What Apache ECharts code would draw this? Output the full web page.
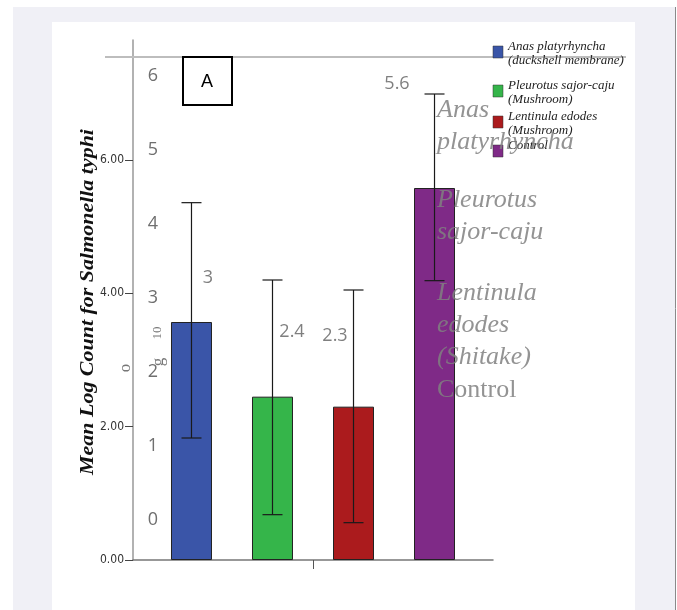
<!DOCTYPE html>
<html>
<head>
<meta charset="utf-8">
<script src="https://cdn.jsdelivr.net/npm/echarts@6/dist/echarts.min.js"></script>
<style>
  html, body { margin: 0; padding: 0; background: #fff; }
  #chart { width: 677px; height: 610px; }
</style>
</head>
<body>
<div id="chart"></div>
<script>
// SPSS bars: mean log count and the error bar ends
var categories = ['Anas platyrhyncha (duckshell membrane)', 'Pleurotus sajor-caju (Mushroom)', 'Lentinula edodes (Mushroom)', 'Control'];
var meanLog = [3.57, 2.45, 2.30, 5.58];
var errLow = [1.83, 0.68, 0.56, 4.19];
var errHigh = [5.36, 4.20, 4.05, 6.99];
var spssTicks = [0, 2, 4, 6];
var barColors = ['#3a55a8', '#35b54a', '#ab1b1d', '#7f2a87'];

// pasted excel layer: labels and axis numbers
var excelValues = [3, 2.4, 2.3, 5.6];
var excelTicks = [0, 1, 2, 3, 4, 5, 6];
var excelNames = [['Anas', 'platyrhyncha'], ['Pleurotus', 'sajor-caju'], ['Lentinula', 'edodes', '(Shitake)'], ['Control']];

// legend lines of the spss picture
var legendLines = [['Anas platyrhyncha', '(duckshell membrane)'], ['Pleurotus sajor-caju', '(Mushroom)'], ['Lentinula edodes', '(Mushroom)'], ['Control']];

var labelShift = [[8, -6], [12, 3], [-25, 0], [-43, -8]];
var legendTop = [46, 85, 116, 145];
var nameTop = [110, 200, 293, 390];

var gfx = [
    { type: 'rect', shape: { x: 13, y: 7, width: 662, height: 603 }, style: { fill: '#f0f0f6' }, z: -10 },
    { type: 'rect', shape: { x: 52, y: 22, width: 583, height: 588 }, style: { fill: '#ffffff' }, z: -9 },
    { type: 'line', shape: { x1: 675.5, y1: 7, x2: 675.5, y2: 610 }, style: { stroke: '#8a8a8a', lineWidth: 1 }, z: -8 },
    // top line of the excel frame
    { type: 'line', shape: { x1: 105, y1: 57, x2: 626, y2: 57 }, style: { stroke: '#bdbdbd', lineWidth: 2 }, z: 1 },
    // box A
    { type: 'rect', shape: { x: 183, y: 57, width: 49, height: 48 }, style: { fill: '#fff', stroke: '#000', lineWidth: 2 }, z: 5 },
    { type: 'text', x: 207, y: 82, style: { text: 'A', font: '18px Liberation Sans', fill: '#000', textAlign: 'center', textVerticalAlign: 'middle' }, z: 6 },
    // y axis title (stretched along its length like the source)
    { type: 'text', x: 88, y: 302, rotation: Math.PI / 2, scaleX: 1.22, style: { text: 'Mean Log Count for Salmonella typhi', font: 'italic bold 18px Liberation Serif', fill: '#111', textAlign: 'center', textVerticalAlign: 'middle' }, z: 5 },
    // bits of the hidden excel axis title
    { type: 'text', x: 158, y: 333, rotation: Math.PI / 2, style: { text: '10', font: '13px Liberation Serif', fill: '#777', textAlign: 'center', textVerticalAlign: 'middle' }, z: 5 },
    { type: 'text', x: 159, y: 362, rotation: Math.PI / 2, style: { text: 'g', font: '17px Liberation Serif', fill: '#777', textAlign: 'center', textVerticalAlign: 'middle' }, z: 5 },
    { type: 'text', x: 126, y: 368, rotation: Math.PI / 2, style: { text: 'o', font: '17px Liberation Serif', fill: '#777', textAlign: 'center', textVerticalAlign: 'middle' }, z: 5 }
];

legendLines.forEach(function (lines, i) {
    gfx.push({ type: 'rect', shape: { x: 493, y: legendTop[i], width: 10, height: 12 }, style: { fill: barColors[i], stroke: '#333', lineWidth: 0.5 }, z: 8 });
    lines.forEach(function (t, j) {
        gfx.push({ type: 'text', x: 508, y: legendTop[i] + 1 + j * 14, style: { text: t, font: 'italic 13px Liberation Serif', fill: '#222', textAlign: 'left', textVerticalAlign: 'middle' }, z: 8 });
    });
});

excelNames.forEach(function (lines, i) {
    lines.forEach(function (t, j) {
        gfx.push({ type: 'text', x: 437, y: nameTop[i] + j * 32, style: { text: t, font: (i == 3 ? '' : 'italic ') + '26px Liberation Serif', fill: 'rgba(128,128,128,0.85)', textAlign: 'left', textVerticalAlign: 'middle' }, z: 9 });
    });
});

var option = {
    backgroundColor: '#ffffff',
    animation: false,
    graphic: { elements: gfx },
    grid: [
        { left: 133, top: 40, right: 184, bottom: 50 },
        { left: 160, top: 76, right: 197, bottom: 90 }
    ],
    xAxis: [
        {
            gridIndex: 0, type: 'value', min: -0.722, max: 3.722,
            splitLine: { show: false },
            axisLine: { show: true, onZero: false, lineStyle: { color: '#777', width: 1.5 } },
            axisTick: { show: true, customValues: [1.5], length: 9, lineStyle: { color: '#555' } },
            axisLabel: { show: false }
        },
        {
            gridIndex: 1, type: 'category', data: categories, show: false
        }
    ],
    yAxis: [
        {
            gridIndex: 0, type: 'value', min: 0, max: 7.8,
            splitLine: { show: false },
            axisLine: { show: true, onZero: false, lineStyle: { color: '#999', width: 1.5 } },
            axisTick: { show: true, customValues: spssTicks, length: 8, lineStyle: { color: '#444' } },
            axisLabel: {
                customValues: spssTicks, margin: 9, fontSize: 12, color: '#333',
                fontFamily: 'Liberation Sans Narrow, DejaVu Sans Condensed, sans-serif',
                formatter: function (v) { return v.toFixed(2); }
            }
        },
        {
            gridIndex: 1, type: 'value', min: 0, max: 6, interval: 1,
            splitLine: { show: false },
            axisLine: { show: false, onZero: false },
            axisTick: { show: false },
            axisLabel: { margin: 2, fontSize: 18, color: '#6f6f6f', fontFamily: 'Open Sans, sans-serif' }
        }
    ],
    series: [
        {
            type: 'bar', xAxisIndex: 0, yAxisIndex: 0, barWidth: 41,
            data: meanLog.map(function (v, i) {
                return { value: [i, v], itemStyle: { color: barColors[i], borderColor: '#222', borderWidth: 1 } };
            })
        },
        {
            type: 'custom', xAxisIndex: 0, yAxisIndex: 0, z: 3,
            data: categories.map(function (c, i) { return [i, errLow[i], errHigh[i]]; }),
            renderItem: function (params, api) {
                var lo = api.coord([api.value(0), api.value(1)]);
                var hi = api.coord([api.value(0), api.value(2)]);
                var st = { stroke: '#1a1a1a', lineWidth: 1.2 };
                return {
                    type: 'group',
                    children: [
                        { type: 'line', shape: { x1: hi[0], y1: hi[1], x2: lo[0], y2: lo[1] }, style: st },
                        { type: 'line', shape: { x1: hi[0] - 10, y1: hi[1], x2: hi[0] + 10, y2: hi[1] }, style: st },
                        { type: 'line', shape: { x1: lo[0] - 10, y1: lo[1], x2: lo[0] + 10, y2: lo[1] }, style: st }
                    ]
                };
            }
        },
        {
            type: 'scatter', xAxisIndex: 1, yAxisIndex: 1, symbolSize: 0, z: 6,
            data: excelValues.map(function (v, i) {
                return { value: v, label: { offset: labelShift[i] } };
            }),
            label: {
                show: true, position: 'top', distance: 5, fontSize: 18, color: '#5f5f5f',
                fontFamily: 'Open Sans, sans-serif'
            }
        }
    ]
};

var chart = echarts.init(document.getElementById('chart'));
chart.setOption(option);
</script>
</body>
</html>
